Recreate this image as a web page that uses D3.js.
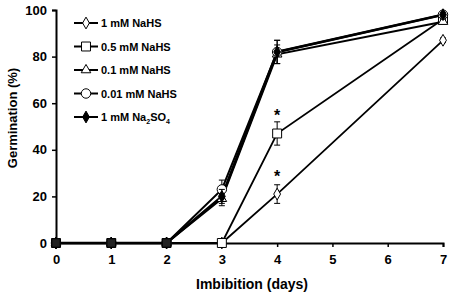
<html>
<head>
<meta charset="utf-8">
<style>
  body { margin: 0; background: #fff; }
  text { font-family: Arial, "Liberation Sans", sans-serif; font-weight: bold; }
</style>
</head>
<body>
<script src="https://cdn.jsdelivr.net/npm/d3@7"></script>
<script>
var days = [0, 1, 2, 3, 4, 7];
var xTicks = [0, 1, 2, 3, 4, 5, 6, 7];
var yTicks = [0, 20, 40, 60, 80, 100];

var seriesNames = ["1 mM NaHS", "0.5 mM NaHS", "0.1 mM NaHS", "0.01 mM NaHS", "1 mM Na2SO4"];
var nahs1 = [0, 0, 0, 0, 21, 87];
var nahs05 = [0, 0, 0, 0, 47, 96];
var nahs01 = [0, 0, 0, 19, 81, 95];
var nahs001 = [0, 0, 0, 23, 82, 98];
var na2so4 = [0, 0, 0, 20, 82, 98];
var err1 = [0, 0, 0, 0, 4, 1];
var err05 = [0, 0, 0, 0, 5, 1];
var err01 = [0, 0, 0, 3, 4, 1];
var err001 = [0, 0, 0, 4, 5, 1];
var errNa = [0, 0, 0, 3, 5, 1];
var starDays = [4, 4];
var starVals = [47, 21];

var width = 454, height = 293;
var svg = d3.select("body").append("svg")
    .attr("width", width)
    .attr("height", height);

var x = d3.scaleLinear().domain([0, 7]).range([56, 443]);
var y = d3.scaleLinear().domain([0, 100]).range([243, 10]);

// axes
var xAxis = svg.append("g")
    .attr("transform", "translate(0," + y(0) + ")")
    .call(d3.axisBottom(x).tickValues(xTicks).tickSize(4).tickFormat(d3.format("d")));
var yAxis = svg.append("g")
    .attr("transform", "translate(" + x(0) + ",0)")
    .call(d3.axisLeft(y).tickValues(yTicks).tickSize(4));
[xAxis, yAxis].forEach(function (a) {
    a.select(".domain").attr("stroke", "#000").attr("stroke-width", 2);
    a.selectAll(".tick line").attr("stroke", "#000").attr("stroke-width", 1.5);
    a.selectAll("text").attr("font-size", 13).attr("fill", "#000")
        .style("font-family", "Arial, 'Liberation Sans', sans-serif").style("font-weight", "bold");
});
xAxis.selectAll("text").attr("dy", "1.05em");
yAxis.selectAll("text").attr("x", -9);

svg.append("text")
    .attr("x", 252).attr("y", 289)
    .attr("text-anchor", "middle").attr("font-size", 14)
    .text("Imbibition (days)");
svg.append("text")
    .attr("transform", "translate(17,118) rotate(-90)")
    .attr("text-anchor", "middle").attr("font-size", 13)
    .text("Germination (%)");

var series = [
    { name: seriesNames[0], vals: nahs1, err: err1, shape: "diamond", fill: "#fff", w: 1.8 },
    { name: seriesNames[1], vals: nahs05, err: err05, shape: "square", fill: "#fff", w: 1.8 },
    { name: seriesNames[2], vals: nahs01, err: err01, shape: "triangle", fill: "#fff", w: 2 },
    { name: seriesNames[3], vals: nahs001, err: err001, shape: "circle", fill: "#fff", w: 2 },
    { name: seriesNames[4], vals: na2so4, err: errNa, shape: "diamond", fill: "#000", w: 2.5 }
];

var symbols = {
    diamond: d3.symbol().type(d3.symbolDiamond).size(40),
    square: d3.symbol().type(d3.symbolSquare).size(80),
    triangle: d3.symbol().type(d3.symbolTriangle).size(40),
    circle: d3.symbol().type(d3.symbolCircle).size(70)
};

var line = d3.line().x(function (d) { return x(d[0]); }).y(function (d) { return y(d[1]); });

// lines
series.forEach(function (s) {
    svg.append("path")
        .datum(days.map(function (d, i) { return [d, s.vals[i]]; }))
        .attr("fill", "none").attr("stroke", "#000").attr("stroke-width", s.w)
        .attr("d", line);
});

// error bars and markers
series.forEach(function (s) {
    var g = svg.append("g");
    days.forEach(function (d, i) {
        if (s.err[i] > 0) {
            var cx = x(d), top = y(s.vals[i] + s.err[i]), bot = y(s.vals[i] - s.err[i]);
            g.append("line").attr("x1", cx).attr("x2", cx).attr("y1", top).attr("y2", bot)
                .attr("stroke", "#000").attr("stroke-width", 1);
            [top, bot].forEach(function (yy) {
                g.append("line").attr("x1", cx - 3).attr("x2", cx + 3).attr("y1", yy).attr("y2", yy)
                    .attr("stroke", "#000").attr("stroke-width", 1);
            });
        }
    });
    g.selectAll("path")
        .data(days.map(function (d, i) { return [d, s.vals[i]]; }))
        .enter().append("path")
        .attr("d", symbols[s.shape])
        .attr("transform", function (d) { return "translate(" + x(d[0]) + "," + y(d[1]) + ")"; })
        .attr("fill", s.fill).attr("stroke", "#000").attr("stroke-width", 1);
});

// overlapping points at the start look like a dark blob
svg.selectAll(".blob")
    .data(days.slice(0, 3))
    .enter().append("path")
    .attr("class", "blob")
    .attr("d", d3.symbol().type(d3.symbolSquare).size(70))
    .attr("transform", function (d) { return "translate(" + x(d) + "," + y(0) + ")"; })
    .attr("fill", "#222").attr("stroke", "#000").attr("stroke-width", 1);

// significance stars
svg.selectAll(".star")
    .data(starDays.map(function (d, i) { return [d, starVals[i]]; }))
    .enter().append("text")
    .attr("class", "star")
    .attr("x", function (d) { return x(d[0]); })
    .attr("y", function (d) { return y(d[1]) - 12; })
    .attr("text-anchor", "middle").attr("font-size", 16)
    .text("*");

// legend
var legend = svg.append("g");
series.forEach(function (s, i) {
    var ly = 23 + i * 23.5;
    legend.append("line").attr("x1", 74).attr("x2", 98).attr("y1", ly).attr("y2", ly)
        .attr("stroke", "#000").attr("stroke-width", 2);
    legend.append("path").attr("d", symbols[s.shape])
        .attr("transform", "translate(86," + ly + ")")
        .attr("fill", s.fill).attr("stroke", "#000").attr("stroke-width", 1);
    var t = legend.append("text").attr("x", 101).attr("y", ly + 4).attr("font-size", 11);
    if (s.name.indexOf("Na2SO4") >= 0) {
        t.append("tspan").text("1 mM Na");
        t.append("tspan").attr("font-size", 7).attr("dy", 3).text("2");
        t.append("tspan").attr("dy", -3).text("SO");
        t.append("tspan").attr("font-size", 7).attr("dy", 3).text("4");
    } else {
        t.text(s.name);
    }
});
</script>
</body>
</html>
